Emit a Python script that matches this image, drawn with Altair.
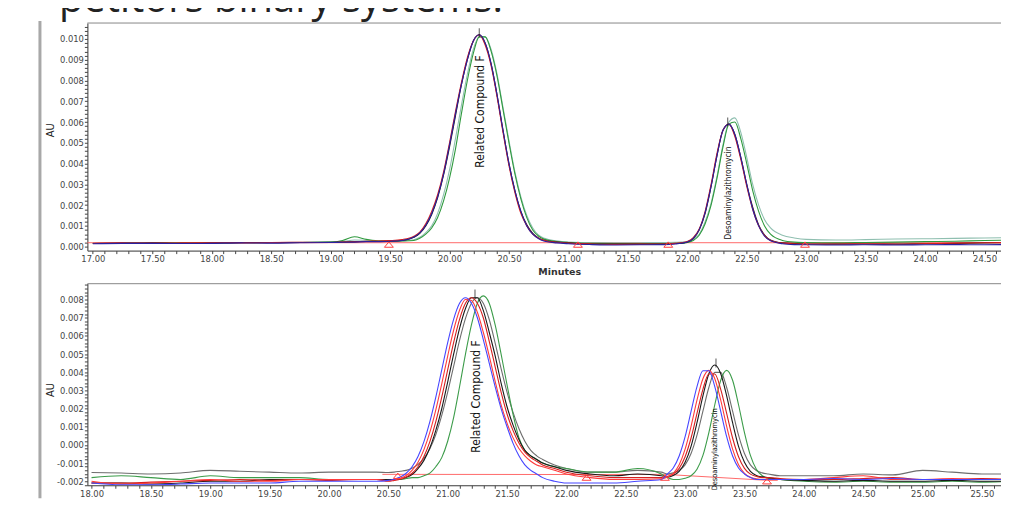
import altair as alt
import pandas as pd

CAPTION = "petitors binary systems."
PEAK_F = "Related Compound F"
PEAK_D = "Desoaminylazithromycin"

# ---------------- top panel (minutes, AU) ----------------
T_TOP = [17.00, 17.25, 17.50, 17.75, 18.00, 18.25, 18.50, 18.75, 19.00,
         19.10, 19.20, 19.30, 19.40, 19.50, 19.60, 19.70,
         19.75, 19.80, 19.85, 19.90, 19.95, 20.00, 20.05, 20.10, 20.15, 20.20, 20.25,
         20.30, 20.35, 20.40, 20.45, 20.50, 20.55, 20.60, 20.65, 20.70, 20.75, 20.80,
         20.90, 21.00, 21.20, 21.40, 21.60, 21.80, 21.90,
         21.95, 22.00, 22.05, 22.10, 22.15, 22.20, 22.25, 22.30, 22.35, 22.40, 22.45,
         22.50, 22.55, 22.60, 22.65, 22.70,
         22.80, 22.90, 23.00, 23.25, 23.50, 23.75, 24.00, 24.25, 24.50, 24.75]

TOP_BLACK = [0.00015, 0.00017, 0.00018, 0.00016, 0.00018, 0.0002, 0.00019, 0.0002, 0.00021,
             0.00022, 0.00024, 0.00025, 0.00025, 0.00027, 0.0003, 0.00045,
             0.00064, 0.001, 0.00155, 0.00236, 0.00345, 0.0048, 0.0063, 0.0078, 0.0090, 0.0099, 0.0102,
             0.0098, 0.0088, 0.0073, 0.0056, 0.0040, 0.0027, 0.0017, 0.00105, 0.00064, 0.00041, 0.0003,
             0.00022, 0.00018, 0.00013, 0.00012, 0.00012, 0.00013, 0.00015,
             0.00017, 0.00022, 0.00039, 0.0008, 0.0016, 0.0029, 0.0044, 0.0056, 0.0059, 0.0054, 0.0043,
             0.0030, 0.0019, 0.00105, 0.00056, 0.00032,
             0.00018, 0.00015, 0.00013, 0.00012, 0.00013, 0.00012, 0.00014, 0.00016, 0.00018, 0.0002]

TOP_RED = [0.00016, 0.00018, 0.00017, 0.00018, 0.00019, 0.00018, 0.0002, 0.00021, 0.0002,
           0.00022, 0.00023, 0.00026, 0.00027, 0.00029, 0.00034, 0.0005,
           0.0007, 0.0011, 0.0017, 0.0025, 0.0036, 0.0050, 0.0065, 0.0079, 0.0091, 0.0099, 0.0102,
           0.0097, 0.0087, 0.0072, 0.0055, 0.0039, 0.0026, 0.0016, 0.0010, 0.0006, 0.0004, 0.0003,
           0.00021, 0.00017, 0.00013, 0.00011, 0.00012, 0.00013, 0.00016,
           0.00019, 0.00025, 0.00043, 0.00085, 0.0017, 0.0030, 0.0045, 0.0056, 0.0059, 0.0053, 0.0042,
           0.0029, 0.0018, 0.0010, 0.00053, 0.0003,
           0.00017, 0.00014, 0.00013, 0.00013, 0.00014, 0.00013, 0.00015, 0.00017, 0.00019, 0.0002]

TOP_BLUE = [0.00014, 0.00016, 0.00016, 0.00015, 0.00016, 0.00018, 0.00017, 0.00019, 0.0002,
            0.00021, 0.00022, 0.00024, 0.00024, 0.00026, 0.0003, 0.00046,
            0.00066, 0.00103, 0.0016, 0.0024, 0.0035, 0.0049, 0.0064, 0.0078, 0.0090, 0.0099, 0.0102,
            0.0098, 0.0088, 0.0073, 0.0056, 0.0040, 0.0027, 0.0017, 0.0010, 0.0006, 0.00038, 0.00026,
            0.00018, 0.00014, 0.0001, 0.00008, 0.00009, 0.0001, 0.00013,
            0.00016, 0.00022, 0.0004, 0.00082, 0.00165, 0.0029, 0.0044, 0.0056, 0.0059, 0.0054, 0.0043,
            0.0030, 0.0018, 0.0010, 0.0005, 0.00028,
            0.00014, 0.0001, 0.00009, 0.00008, 0.00009, 0.00008, 0.00009, 0.0001, 0.00009, 0.0001]

TOP_GREEN = [0.00015, 0.00016, 0.00017, 0.00018, 0.00017, 0.00019, 0.0002, 0.0002, 0.00022,
             0.0003, 0.00048, 0.00035, 0.00028, 0.00026, 0.00027, 0.0003,
             0.0004, 0.0006, 0.0009, 0.0014, 0.0022, 0.0033, 0.0047, 0.0064, 0.0080, 0.0093, 0.0101,
             0.0101, 0.0094, 0.0082, 0.0066, 0.0050, 0.0035, 0.0023, 0.0014, 0.0008, 0.0005, 0.00035,
             0.00025, 0.0002, 0.00016, 0.00015, 0.00015, 0.00015, 0.00016,
             0.00016, 0.0002, 0.0003, 0.00055, 0.0011, 0.0020, 0.0033, 0.0048, 0.0059, 0.0060, 0.0052,
             0.0040, 0.0027, 0.0017, 0.0010, 0.0006,
             0.0003, 0.00022, 0.0002, 0.00018, 0.0002, 0.00022, 0.00024, 0.00026, 0.0003, 0.00032]

TOP_TEAL = [0.00016, 0.00017, 0.00018, 0.00017, 0.00018, 0.0002, 0.0002, 0.00021, 0.00022,
            0.00024, 0.00032, 0.0003, 0.00027, 0.00026, 0.00028, 0.00033,
            0.00045, 0.00068, 0.0010, 0.0016, 0.0025, 0.0037, 0.0052, 0.0068, 0.0083, 0.0095, 0.0101,
            0.0101, 0.0095, 0.0083, 0.0067, 0.0051, 0.0036, 0.0024, 0.0015, 0.0009, 0.00055, 0.0004,
            0.00028, 0.00022, 0.00018, 0.00018, 0.00019, 0.0002, 0.00021,
            0.00022, 0.00025, 0.00035, 0.0006, 0.0012, 0.0021, 0.0034, 0.0049, 0.0060, 0.0062, 0.0055,
            0.0043, 0.0030, 0.0020, 0.0013, 0.0009,
            0.00055, 0.00042, 0.00035, 0.00032, 0.00034, 0.00037, 0.00038, 0.0004, 0.00042, 0.00044]

TOP_BASE_T = [16.95, 24.80]
TOP_BASE_V = [0.00019, 0.00019]
TOP_TRI_T = [19.49, 21.08, 21.84, 22.99]
TOP_TRI_V = [0.0001, 0.0001, 0.0001, 0.0001]
TOP_APEX_T = [20.25, 22.34]
TOP_APEX_V = [0.0102, 0.0059]

# ---------------- bottom panel ----------------
T_BOT = [18.00, 18.25, 18.50, 18.75, 19.00, 19.25, 19.50, 19.75, 20.00, 20.25, 20.40, 20.50,
         20.55, 20.60, 20.65, 20.70, 20.75, 20.80, 20.85, 20.90, 20.95, 21.00, 21.05, 21.10, 21.15,
         21.20, 21.25, 21.30, 21.35, 21.40, 21.45, 21.50, 21.55, 21.60, 21.65, 21.70, 21.75, 21.80,
         21.90, 22.00, 22.20, 22.40, 22.60, 22.80,
         22.85, 22.90, 22.95, 23.00, 23.05, 23.10, 23.15, 23.20, 23.25, 23.30, 23.35, 23.40, 23.45,
         23.50, 23.55, 23.60, 23.65, 23.70,
         23.80, 24.00, 24.25, 24.50, 24.75, 25.00, 25.25, 25.50, 25.75]

BOT_BLUE = [-0.0021, -0.0022, -0.0022, -0.00215, -0.0021, -0.0021, -0.0021, -0.0020, -0.0020, -0.0020, -0.0020, -0.00195,
            -0.00189, -0.00177, -0.00156, -0.0012, -0.00064, 0.00018, 0.00128, 0.00263, 0.00413, 0.00563, 0.00691, 0.00779, 0.0081,
            0.0078, 0.0070, 0.0058, 0.0045, 0.0032, 0.0020, 0.0010, 0.0001, -0.0006, -0.0011, -0.0014, -0.0016, -0.0018,
            -0.0020, -0.0021, -0.0021, -0.0021, -0.0020, -0.0019,
            -0.0016, -0.00127, -0.00061, 0.00045, 0.00184, 0.00321, 0.00408, 0.00408, 0.00321, 0.00184, 0.00045, -0.00061, -0.00127,
            -0.0016, -0.0018, -0.0019, -0.0019, -0.0019,
            -0.0019, -0.0019, -0.00185, -0.0019, -0.00185, -0.0019, -0.0019, -0.0019, -0.0019]

BOT_RED1 = [-0.0020, -0.00215, -0.0021, -0.0020, -0.0019, -0.0020, -0.0020, -0.0019, -0.0019, -0.0019, -0.0019, -0.00197,
            -0.00192, -0.00184, -0.00168, -0.0014, -0.00095, -0.00026, 0.0007, 0.00193, 0.00336, 0.00489, 0.00631, 0.00741, 0.0080,
            0.00795, 0.0073, 0.0062, 0.0049, 0.0035, 0.0022, 0.0012, 0.0004, -0.0002, -0.0006, -0.0009, -0.0011, -0.0012,
            -0.0014, -0.0016, -0.0018, -0.0019, -0.0019, -0.00186,
            -0.00178, -0.00156, -0.00109, -0.00023, 0.00102, 0.00246, 0.00364, 0.0041, 0.00364, 0.00246, 0.00102, -0.00023, -0.00109,
            -0.00156, -0.00178, -0.00186, -0.0019, -0.0019,
            -0.0019, -0.0019, -0.0018, -0.0017, -0.0019, -0.0019, -0.00185, -0.0019, -0.0019]

BOT_RED2 = [-0.0021, -0.0021, -0.00205, -0.0020, -0.00195, -0.0019, -0.00195, -0.0019, -0.00195, -0.0019, -0.0019, -0.0020,
            -0.00195, -0.00189, -0.00177, -0.00156, -0.0012, -0.00064, 0.00018, 0.00128, 0.00263, 0.00413, 0.00563, 0.00691, 0.00779,
            0.0081, 0.0078, 0.0070, 0.0057, 0.0043, 0.0029, 0.0017, 0.0008, 0.0001, -0.0004, -0.0007, -0.0009, -0.0011,
            -0.0013, -0.0015, -0.0017, -0.0018, -0.0018, -0.0018,
            -0.00173, -0.00161, -0.00129, -0.00065, 0.00038, 0.00173, 0.00306, 0.0039, 0.0039, 0.00306, 0.00173, 0.00038, -0.00065,
            -0.00129, -0.00161, -0.00173, -0.0018, -0.0018,
            -0.00185, -0.0019, -0.0019, -0.00185, -0.0018, -0.0019, -0.0019, -0.00185, -0.0019]

BOT_BLACK = [-0.0021, -0.0021, -0.00215, -0.0021, -0.0020, -0.0020, -0.0019, -0.0019, -0.0019, -0.0019, -0.0019, -0.0019,
             -0.0019, -0.00187, -0.00179, -0.00163, -0.0013, -0.00085, -0.00016, 0.0008, 0.00199, 0.00346, 0.00499, 0.00641, 0.00751,
             0.0081, 0.0081, 0.0074, 0.0062, 0.0049, 0.0034, 0.0021, 0.0011, 0.0003, -0.0003, -0.0006, -0.0008, -0.0010,
             -0.0012, -0.0014, -0.0016, -0.0017, -0.0016, -0.0017,
             -0.00176, -0.00168, -0.00145, -0.00096, -0.00008, 0.00122, 0.0027, 0.00392, 0.0044, 0.00392, 0.0027, 0.00122, -0.00008,
             -0.00096, -0.00145, -0.00168, -0.00176, -0.0018,
             -0.0019, -0.00195, -0.0020, -0.00195, -0.0020, -0.0020, -0.00195, -0.0020, -0.0020]

BOT_GRAY = [-0.00152, -0.00155, -0.0016, -0.00155, -0.0014, -0.00145, -0.0015, -0.00155, -0.0015, -0.0015, -0.0015, -0.00152,
            -0.0015, -0.00145, -0.0014, -0.00128, -0.00108, -0.00074, -0.00021, 0.00057, 0.00162, 0.0029, 0.00432, 0.00575, 0.00696,
            0.0078, 0.0081, 0.0078, 0.0069, 0.0056, 0.0042, 0.0029, 0.0018, 0.0009, 0.0002, -0.0003, -0.0006, -0.0008,
            -0.0011, -0.0013, -0.0015, -0.0015, -0.0014, -0.0015,
            -0.0016, -0.00154, -0.00141, -0.0011, -0.00047, 0.00054, 0.00186, 0.00316, 0.00399, 0.00399, 0.00316, 0.00186, 0.00054,
            -0.00047, -0.0011, -0.00141, -0.00154, -0.0016,
            -0.0017, -0.0017, -0.0017, -0.0016, -0.00165, -0.0014, -0.0015, -0.0016, -0.0016]

BOT_GREEN = [-0.0018, -0.0017, -0.0018, -0.0019, -0.0017, -0.0018, -0.0018, -0.0018, -0.0019, -0.0019, -0.0019, -0.0019,
             -0.0019, -0.0019, -0.00185, -0.0018, -0.0018, -0.0017, -0.00155, -0.0012, -0.0007, 0.0002, 0.0015, 0.0032, 0.0050,
             0.0066, 0.0078, 0.0082, 0.0078, 0.0066, 0.0050, 0.0033, 0.0017, 0.0004, -0.0003, -0.0006, -0.0008, -0.0010,
             -0.0012, -0.0013, -0.0015, -0.0015, -0.0013, -0.0016,
             -0.0018, -0.0019, -0.0019, -0.00184, -0.0017, -0.00134, -0.00058, 0.00068, 0.00221, 0.00356, 0.0041, 0.00356, 0.00221,
             0.00068, -0.00058, -0.00134, -0.0017, -0.00184,
             -0.0019, -0.0020, -0.00205, -0.0020, -0.00205, -0.00205, -0.0020, -0.00205, -0.0020]

BOT_BASE_T = [20.45, 22.17, 22.83, 23.69, 23.78]
BOT_BASE_V = [-0.00162, -0.00163, -0.00162, -0.00195, -0.00195]
BOT_TRI_T = [20.58, 22.17, 22.83, 23.69]
BOT_TRI_V = [-0.0017, -0.0018, -0.0018, -0.0020]
BOT_APEX_T = [21.23, 23.26]
BOT_APEX_V = [0.0082, 0.0044]

# axis tick labels
TOP_X_LABELS = [17.0, 17.5, 18.0, 18.5, 19.0, 19.5, 20.0, 20.5, 21.0, 21.5, 22.0, 22.5, 23.0, 23.5, 24.0, 24.5]
BOT_X_LABELS = [18.0, 18.5, 19.0, 19.5, 20.0, 20.5, 21.0, 21.5, 22.0, 22.5, 23.0, 23.5, 24.0, 24.5, 25.0, 25.5]
TOP_Y_LABELS = [0.000, 0.001, 0.002, 0.003, 0.004, 0.005, 0.006, 0.007, 0.008, 0.009, 0.010]
BOT_Y_LABELS = [-0.002, -0.001, 0.000, 0.001, 0.002, 0.003, 0.004, 0.005, 0.006, 0.007, 0.008]

for arr in [TOP_BLACK, TOP_RED, TOP_BLUE, TOP_GREEN, TOP_TEAL]:
    assert len(arr) == len(T_TOP), len(arr)
for arr in [BOT_BLUE, BOT_RED1, BOT_RED2, BOT_BLACK, BOT_GRAY, BOT_GREEN]:
    assert len(arr) == len(T_BOT), len(arr)

# minor ticks between the labels
TOP_X_TICKS = [round(17.0 + 0.1 * i, 2) for i in range(80)]
BOT_X_TICKS = [round(18.0 + 0.1 * i, 2) for i in range(80)]
TOP_Y_TICKS = [round(0.0002 * i, 4) for i in range(0, 54)]
BOT_Y_TICKS = [round(0.0002 * i, 4) for i in range(-11, 45)]

W = 964
H_TOP = 228
H_BOT = 202
GAP = 33
TOP_XDOM = [16.954, 25.05]
BOT_XDOM = [17.965, 26.073]
TOP_YDOM = [-0.00019, 0.01077]
BOT_YDOM = [-0.00222, 0.00888]

NARROW = "Liberation Sans Narrow, Arial Narrow, DejaVu Sans Condensed, sans-serif"
XMAJ = "abs(datum.value*2 - round(datum.value*2)) < 0.01"
YMAJ = "abs(datum.value*1000 - round(datum.value*1000)) < 0.01"


def x_axis(values, with_title):
    kw = dict(values=values,
              labelExpr=f"{XMAJ} ? format(datum.value, '.2f') : ''",
              tickSize=3,
              labelFont="DejaVu Sans", labelFontSize=8.4, labelColor="#444", labelPadding=1,
              labelOverlap=False, labelFlush=False, grid=False,
              domainColor="#444", tickColor="#444")
    if with_title:
        kw.update(title="Minutes", titleX=472.5, titleY=21, titleFont="DejaVu Sans", titleFontSize=9.5,
                  titleFontWeight="bold", titleColor="#333", titleBaseline="middle")
    else:
        kw.update(title=None)
    return alt.Axis(**kw)


def y_axis(values, title_y):
    return alt.Axis(values=values,
                    labelExpr=f"{YMAJ} ? (datum.value < 0 ? '-' : '') + format(abs(datum.value), '.3f') : ''",
                    tickSize=3,
                    labelFont="DejaVu Sans", labelFontSize=8.4, labelColor="#444", labelPadding=1,
                    labelOverlap=False, labelFlush=False, grid=False,
                    domainColor="#444", tickColor="#444",
                    title="AU", titleAngle=270, titleX=-36.5, titleY=title_y, titleFont=NARROW,
                    titleFontSize=11, titleFontWeight="normal", titleColor="#222",
                    titleBaseline="middle", titleAlign="center")


def panel(t, traces, base_t, base_v, tri_t, tri_v, apex_t, apex_v, labels,
          xdom, ydom, xticks, yticks, height, x_title, y_title_y, extra):
    xs = alt.Scale(domain=xdom, nice=False, zero=False)
    ys = alt.Scale(domain=ydom, nice=False, zero=False)
    one = pd.DataFrame({"a": [0]})
    X = alt.X("t:Q", scale=xs, axis=x_axis(xticks, x_title))
    Y = alt.Y("v:Q", scale=ys, axis=y_axis(yticks, y_title_y))
    layers = []
    layers.append(alt.Chart(pd.DataFrame({"t": base_t, "v": base_v})).mark_line(
        color="#ff6a6a", strokeWidth=1, clip=True).encode(x=X, y=Y))
    for vals, col in traces:
        layers.append(alt.Chart(pd.DataFrame({"t": t, "v": vals})).mark_line(
            color=col, strokeWidth=1.1, interpolate="monotone", clip=True).encode(x=X, y=Y))
    shape = "M-1,0.6L0,-0.6L1,0.6Z"
    layers.append(alt.Chart(pd.DataFrame({"t": tri_t, "v": tri_v})).mark_point(
        shape=shape, size=80, filled=False, color="#ff4040", strokeWidth=1, opacity=1).encode(x=X, y=Y))
    layers.append(alt.Chart(pd.DataFrame({"t": apex_t, "v": apex_v})).mark_tick(
        orient="vertical", size=9, thickness=1, color="#111", yOffset=-2).encode(x=X, y=Y))
    for (lt, lv, txt, fs) in labels:
        layers.append(alt.Chart(pd.DataFrame({"t": [lt], "v": [lv], "s": [txt]})).mark_text(
            angle=270, align="left", baseline="middle", font=NARROW, fontSize=fs, color="#111").encode(
            x=X, y=Y, text="s:N"))
    layers.append(alt.Chart(one).mark_rule(color="#9a9a9a", strokeWidth=1).encode(
        x=alt.value(0), x2=alt.value(W), y=alt.value(0)))
    layers.extend(extra)
    return alt.layer(*layers).properties(width=W, height=height)


one = pd.DataFrame({"a": [0]})
caption = alt.Chart(pd.DataFrame({"s": [CAPTION]})).mark_text(
    align="left", baseline="alphabetic", font="Open Sans", fontSize=40, color="#222").encode(
    x=alt.value(-28.5), y=alt.value(-11), text="s:N")
side_bar = alt.Chart(one).mark_rule(color="#a8a8a8", strokeWidth=3).encode(
    x=alt.value(-47.5), y=alt.value(-2), y2=alt.value(476))

top = panel(T_TOP,
            [(TOP_TEAL, "#8fbfb0"), (TOP_GREEN, "#2f9a3e"), (TOP_BLACK, "#1a1a1a"),
             (TOP_RED, "#d81c1c"), (TOP_BLUE, "#2a20a0")],
            TOP_BASE_T, TOP_BASE_V, TOP_TRI_T, TOP_TRI_V, TOP_APEX_T, TOP_APEX_V,
            [(20.26, 0.0038, PEAK_F, 12), (22.34, 0.00034, PEAK_D, 8.4)],
            TOP_XDOM, TOP_YDOM, TOP_X_TICKS, TOP_Y_TICKS, H_TOP, True, 107,
            [caption, side_bar])

bottom = panel(T_BOT,
               [(BOT_GRAY, "#6e6e6e"), (BOT_GREEN, "#3c9c4a"), (BOT_BLACK, "#1a1a1a"),
                (BOT_RED2, "#d42020"), (BOT_RED1, "#ff3b3b"), (BOT_BLUE, "#4646ff")],
               BOT_BASE_T, BOT_BASE_V, BOT_TRI_T, BOT_TRI_V, BOT_APEX_T, BOT_APEX_V,
               [(21.24, -0.00043, PEAK_F, 12), (23.25, -0.0025, PEAK_D, 7.4)],
               BOT_XDOM, BOT_YDOM, BOT_X_TICKS, BOT_Y_TICKS, H_BOT, False, 106, [])

chart = alt.vconcat(top, bottom, spacing=GAP, bounds="flush").properties(
    padding={"left": 29.5, "top": -29.4, "right": -50, "bottom": 0}
).configure_view(strokeOpacity=0, strokeWidth=0).configure(background="white")

chart.save("out.html", embed_options={"renderer": "svg", "actions": False})
